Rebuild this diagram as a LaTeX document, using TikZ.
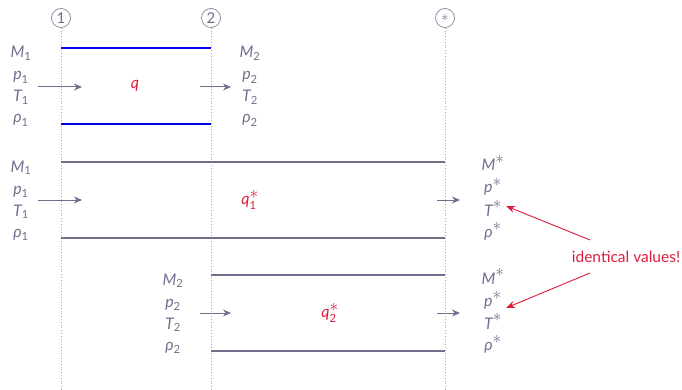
\documentclass[tikz,border=0pt]{standalone}
\usepackage{amsmath}
\usepackage{fontspec}
\setsansfont{Lato}
\usetikzlibrary{arrows.meta}
\definecolor{ink}{RGB}{112,112,142}
\definecolor{hot}{RGB}{222,28,58}
\definecolor{pipe}{RGB}{0,0,235}
\newcommand{\sv}[2]{$\text{\sffamily\itshape #1}_{\text{\sffamily #2}}$}
\newcommand{\bigstr}{{\textstyle *}}
\newcommand{\svstar}[1]{$\text{\sffamily\itshape #1}^{\bigstr}$}
\begin{document}
\begin{tikzpicture}[x=1pt,y=-1pt,
  lbl/.style={text=ink,font=\sffamily\fontsize{16}{18}\selectfont,inner sep=0pt,anchor=base},
  qlbl/.style={text=hot,font=\sffamily\fontsize{16}{18}\selectfont,inner sep=0pt},
  station/.style={circle,draw=ink,line width=0.6pt,minimum size=19pt,inner sep=0pt,text=ink,font=\sffamily\fontsize{15}{17}\selectfont},
  guide/.style={draw=ink!60,line width=0.8pt,dotted},
  wall/.style={draw=pipe,line width=1.8pt},
  tube/.style={draw=ink,line width=1.1pt},
  flow/.style={draw=ink,line width=1pt,-{Stealth[length=8pt,width=7pt]}},
  note/.style={draw=hot,line width=0.9pt,-{Stealth[length=9pt,width=7pt]}}]
\useasboundingbox (0,0) rectangle (682,390);
% stations
\node[station] (s1) at (61,18) {1};
\node[station] (s2) at (211,18) {2};
\node[station] (s3) at (445,18) {$*$};
\coordinate (e1) at (61,390);
\coordinate (e2) at (211,390);
\coordinate (e3) at (445,390);
\draw[guide] (s1.south) -- (e1);
\draw[guide] (s2.south) -- (e2);
\draw[guide] (s3.south) -- (e3);
% ---- top duct
\coordinate (a1) at (61,48); \coordinate (a2) at (211,48);
\coordinate (b1) at (61,124); \coordinate (b2) at (211,124);
\draw[wall] (a1) -- (a2);
\draw[wall] (b1) -- (b2);
\node[lbl] (tM1) at (21,58) {\sv{M}{1}};
\node[lbl] (tp1) at (21,80) {\sv{p}{1}};
\node[lbl] (tT1) at (21,102) {\sv{T}{1}};
\node[lbl] (tr1) at (21,123) {\sv{ρ}{1}};
\node[lbl] (tM2) at (250,58) {\sv{M}{2}};
\node[lbl] (tp2) at (250,80) {\sv{p}{2}};
\node[lbl] (tT2) at (250,102) {\sv{T}{2}};
\node[lbl] (tr2) at (250,123) {\sv{ρ}{2}};
\node[qlbl] (tq) at (135,86) {$\text{\sffamily\itshape q}$};
\coordinate (fa1) at (38,87); \coordinate (fa2) at (82,87);
\coordinate (fb1) at (200,87); \coordinate (fb2) at (231,87);
\draw[flow] (fa1) -- (fa2);
\draw[flow] (fb1) -- (fb2);
% ---- middle duct
\coordinate (c1) at (61,162); \coordinate (c2) at (445,162);
\coordinate (d1) at (61,238); \coordinate (d2) at (445,238);
\draw[tube] (c1) -- (c2);
\draw[tube] (d1) -- (d2);
\node[lbl] (mM1) at (21,172) {\sv{M}{1}};
\node[lbl] (mp1) at (21,194) {\sv{p}{1}};
\node[lbl] (mT1) at (21,216) {\sv{T}{1}};
\node[lbl] (mr1) at (21,237) {\sv{ρ}{1}};
\node[lbl] (mMs) at (493,171) {\svstar{M}};
\node[lbl] (mps) at (493,193) {\svstar{p}};
\node[lbl] (mTs) at (493,216) {\svstar{T}};
\node[lbl] (mrs) at (493,237) {\svstar{ρ}};
\node[qlbl] (mq) at (250,200) {$\text{\sffamily\itshape q}^{\bigstr}_{\text{\sffamily 1}}$};
\coordinate (fc1) at (38,200); \coordinate (fc2) at (82,200);
\coordinate (fd1) at (437,200); \coordinate (fd2) at (460,200);
\draw[flow] (fc1) -- (fc2);
\draw[flow] (fd1) -- (fd2);
% ---- bottom duct
\coordinate (g1) at (211,275); \coordinate (g2) at (445,275);
\coordinate (h1) at (211,351); \coordinate (h2) at (445,351);
\draw[tube] (g1) -- (g2);
\draw[tube] (h1) -- (h2);
\node[lbl] (bM2) at (173,285) {\sv{M}{2}};
\node[lbl] (bp2) at (173,307) {\sv{p}{2}};
\node[lbl] (bT2) at (173,329) {\sv{T}{2}};
\node[lbl] (br2) at (173,350) {\sv{ρ}{2}};
\node[lbl] (bMs) at (493,284) {\svstar{M}};
\node[lbl] (bps) at (493,306) {\svstar{p}};
\node[lbl] (bTs) at (493,329) {\svstar{T}};
\node[lbl] (brs) at (493,350) {\svstar{ρ}};
\node[qlbl] (bq) at (330,313) {$\text{\sffamily\itshape q}^{\bigstr}_{\text{\sffamily 2}}$};
\coordinate (fe1) at (200,313); \coordinate (fe2) at (231,313);
\coordinate (ff1) at (437,313); \coordinate (ff2) at (460,313);
\draw[flow] (fe1) -- (fe2);
\draw[flow] (ff1) -- (ff2);
% ---- note
\node[qlbl,font=\sffamily\fontsize{15.5}{17}\selectfont] (note) at (626,257) {identical values!};
\coordinate (n1) at (590,240); \coordinate (n2) at (590,273);
\coordinate (t1) at (506,206); \coordinate (t2) at (506,308);
\draw[note] (n1) -- (t1);
\draw[note] (n2) -- (t2);
\end{tikzpicture}
\end{document}
